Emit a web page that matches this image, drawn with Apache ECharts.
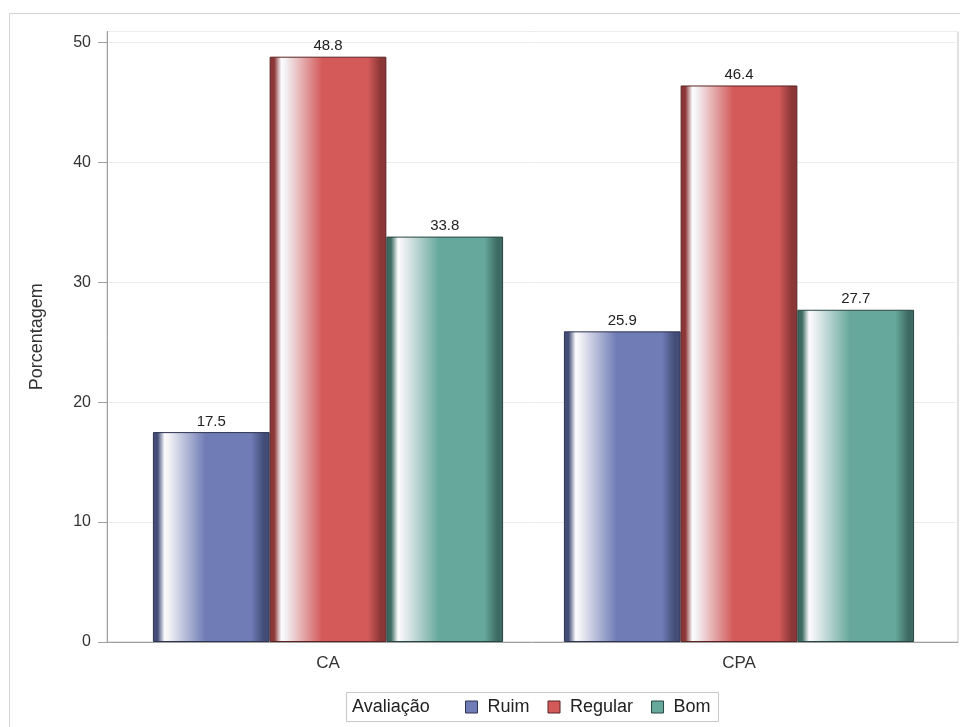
<!DOCTYPE html>
<html>
<head>
<meta charset="utf-8">
<script src="https://cdn.jsdelivr.net/npm/echarts@6/dist/echarts.min.js"></script>
<style>
  html, body { margin: 0; padding: 0; background: #fff; }
  #chart { width: 960px; height: 727px; }
</style>
</head>
<body>
<div id="chart"></div>
<script>
// Categories and percentages per rating
const categories = ['CA', 'CPA'];
const ruim = [17.5, 25.9];
const regular = [48.8, 46.4];
const bom = [33.8, 27.7];
const yTicks = [0, 10, 20, 30, 40, 50];

const FONT = 'Liberation Sans, Arial, sans-serif';

// Horizontal shaded fill: dark edge, bright highlight, base colour, dark edge
function shade(dark, base) {
  return new echarts.graphic.LinearGradient(0, 0, 1, 0, [
    { offset: 0.0, color: dark },
    { offset: 0.04, color: dark },
    { offset: 0.10, color: '#fbfbfd' },
    { offset: 0.13, color: '#f4f4f7' },
    { offset: 0.45, color: base },
    { offset: 0.84, color: base },
    { offset: 0.95, color: dark },
    { offset: 1.0, color: dark }
  ]);
}

const palette = {
  Ruim: { base: '#6f7cb6', dark: '#434d78', edge: '#2e3350' },
  Regular: { base: '#d45a5a', dark: '#8c3737', edge: '#5a2222' },
  Bom: { base: '#66a89c', dark: '#3d6b63', edge: '#284641' }
};

function barSeries(name, values) {
  const p = palette[name];
  return {
    name: name,
    type: 'bar',
    xAxisIndex: 1,
    yAxisIndex: 1,
    data: values,
    barGap: '0%',
    barCategoryGap: '14.8%',
    itemStyle: { color: shade(p.dark, p.base), borderColor: p.edge, borderWidth: 1 },
    label: {
      show: true,
      position: 'top',
      distance: 3,
      fontFamily: FONT,
      fontSize: 15,
      color: '#222',
      formatter: (d) => d.value.toFixed(1)
    },
    emphasis: { disabled: true }
  };
}

const chart = echarts.init(document.getElementById('chart'));
chart.setOption({
  animation: false,
  backgroundColor: '#fff',
  grid: [
    { left: 107, right: 2, top: 31.5, bottom: 85, show: true, borderColor: '#c4c4c4', borderWidth: 1, backgroundColor: '#fff' },
    { left: 122.5, right: 15.5, top: 31.5, bottom: 85 }
  ],
  xAxis: [
    {
      gridIndex: 0,
      type: 'category',
      data: categories,
      axisLine: { lineStyle: { color: '#a0a0a0' } },
      axisTick: { show: false },
      axisLabel: { show: false }
    },
    {
      gridIndex: 1,
      type: 'category',
      data: categories,
      axisLine: { show: false },
      axisTick: { show: false },
      axisLabel: { fontFamily: FONT, fontSize: 17, color: '#333', margin: 13 }
    }
  ],
  yAxis: [
    {
      gridIndex: 0,
      type: 'value',
      min: 0,
      max: 50.9,
      interval: 10,
      name: 'Porcentagem',
      nameLocation: 'middle',
      nameGap: 61,
      nameTextStyle: { fontFamily: FONT, fontSize: 18, color: '#333' },
      axisLine: { show: true, lineStyle: { color: '#a0a0a0' } },
      axisTick: { show: true, length: 9, lineStyle: { color: '#a0a0a0' } },
      axisLabel: {
        fontFamily: FONT, fontSize: 16, color: '#333', margin: 16, showMaxLabel: false,
        formatter: (v) => (yTicks.indexOf(v) >= 0 ? String(v) : '')
      },
      splitLine: { show: true, lineStyle: { color: '#ececec' } }
    },
    { gridIndex: 1, type: 'value', min: 0, max: 50.9, interval: 10, show: false, splitLine: { show: false } }
  ],
  legend: {
    left: 465,
    top: 697,
    padding: 0,
    itemWidth: 12,
    itemHeight: 12,
    itemGap: 18,
    icon: 'rect',
    textStyle: { fontFamily: FONT, fontSize: 18, lineHeight: 20, color: '#222', padding: [0, 0, 0, 5] },
    data: ['Ruim', 'Regular', 'Bom'].map((n) => ({
      name: n,
      itemStyle: { color: palette[n].base, borderColor: palette[n].edge, borderWidth: 1 }
    }))
  },
  graphic: [
    {
      type: 'rect',
      silent: true,
      z: -10,
      shape: { x: 9.5, y: 13.5, width: 980, height: 740 },
      style: { fill: 'none', stroke: '#d4d4d4', lineWidth: 1 }
    },
    {
      type: 'rect',
      silent: true,
      shape: { x: 346.5, y: 692.5, width: 372, height: 29 },
      style: { fill: '#fff', stroke: '#c8c8c8', lineWidth: 1 },
      z: -1
    },
    {
      type: 'text',
      silent: true,
      left: 352,
      top: 697,
      style: { text: 'Avaliação', fontFamily: FONT, fontSize: 18, lineHeight: 20, fill: '#222' }
    }
  ],
  series: [
    barSeries('Ruim', ruim),
    barSeries('Regular', regular),
    barSeries('Bom', bom)
  ]
});
</script>
</body>
</html>
